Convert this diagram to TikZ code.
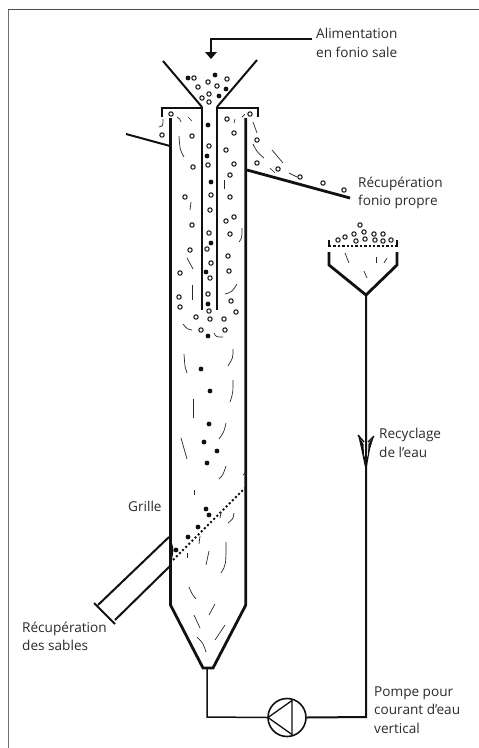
\documentclass[tikz,border=0pt]{standalone}
\usepackage{fontspec}
\setmainfont{Open Sans}
\usetikzlibrary{calc,positioning}
\definecolor{Ink}{HTML}{111111}
\definecolor{Label}{HTML}{2B2B2B}
\definecolor{FrameGray}{HTML}{6E6E6E}
\tikzset{
  wall/.style={line width=2.8pt,Ink},
  thinwall/.style={line width=2pt,Ink},
  pipeline/.style={line width=2pt,Ink},
  hair/.style={line width=0.7pt,Ink!90},
  grain/.style={draw=Ink,line width=1pt,fill=white},
  label/.style={text=Label,font=\fontsize{13.6}{18.6}\selectfont,align=left,inner sep=0pt}
}
\begin{document}
\begin{tikzpicture}[x=1pt,y=-1pt]
    \useasboundingbox (0,0) rectangle (479,748);
    \fill[white] (0,0) rectangle (479,748);
    \draw[FrameGray,line width=1.6pt] (8.6,748) -- (8.6,9.5);
    \draw[FrameGray!70!black,line width=1pt] (8,9.5) -- (479,9.5);
    % labels
    \node[label,anchor=west] (alim) at (316,43) {Alimentation\\en fonio sale};
    \node[label,anchor=west] (fonio) at (358,193) {Récupération\\fonio propre};
    \node[label,anchor=west] (recy) at (379,443) {Recyclage\\de l'eau};
    \node[label,anchor=west] (grille) at (128,506.5) {Grille};
    \node[label,anchor=west] (sables) at (22,636.5) {Récupération\\des sables};
    \node[label,anchor=west] (pompe) at (374,710) {Pompe pour\\courant d'eau\\vertical};
    % feed arrow
    \coordinate (feedstart) at (312,39);
    \coordinate (feedbend) at (211,39);
    \coordinate (feedend) at (211,53);
    \draw[pipeline,line width=1.2pt] (feedstart) -- (feedbend) -- (feedend);
    \fill[Ink] (205,52) -- (217,52) -- (211,59) -- cycle;
    % funnel and cap
    \draw[thinwall] (163,61) -- (202,107) (257,60) -- (217,107);
    \draw[thinwall] (162,117) -- (162,108) -- (202,108) -- (202,310);
    \draw[thinwall] (258,117) -- (258,108) -- (217,108) -- (217,310);
    % column and cone
    \draw[wall] (170.5,118) -- (170.5,605) -- (203,668) -- (213,668) -- (245.8,605) -- (245.8,118);
    \draw[thinwall] (126,134) -- (170,146);
    \draw[wall] (247,170) -- (350,198);
    % sand outlet
    \draw[thinwall] (169,537) -- (98,605);
    \draw[thinwall] (169,567) -- (115,620);
    \draw[thinwall] (94,603) -- (115,624);
    \draw[line width=1.2pt,Ink] (169,537) .. controls (174,550) .. (169,567);
    \draw[Ink,line width=2pt,dash pattern=on 2pt off 2.4pt] (173,560) -- (245,488);
    % hopper
    \draw[Ink,line width=2.4pt,dash pattern=on 2.4pt off 2pt] (329,246) -- (397,246);
    \draw[wall] (329,240) -- (329,247) (397,240) -- (397,247);
    \draw[wall] (329,252) -- (329,265) -- (366,295) -- (397,265) -- (397,252);
    % recycling circuit
    \node[circle,draw=Ink,line width=1.6pt,minimum size=38pt,inner sep=0pt] (pump) at (287,717.5) {};
    \coordinate (hopperout) at (366,295);
    \coordinate (coneout) at (207,668);
    \draw[pipeline] (hopperout) -- (366,717) -- (pump.east);
    \draw[pipeline,line width=1.5pt] (coneout) -- (207,717) -- (pump.west);
    \draw[Ink,line width=1.3pt] (268,717.5) -- (292,700.5) -- (292,734.5) -- cycle;
    % flow mark
    \draw[Ink,line width=1.4pt] (358,435) -- (364,442) (374,436) -- (368,442);
    \fill[Ink] (358,435) -- (361,448) -- (366,472) -- (370,449) -- (374,436) -- (368.5,444) -- (368,455) -- (366,460) -- (364,455) -- (363.5,444) -- cycle;
    % hairs
    \foreach \xa/\ya/\xb/\yb/\xc/\yc in {
      177/117/180/119/181/122, 188/117/190/119/192/121, 163/119/163/126/159/127,
      179/136/180/150/184/157, 235/119/235/121/234/123, 242/117/243/115/245/114,
      253/122/255/127/257/133, 253/144/257/152/264/158, 272/150/277/156/283/163,
      270/168/272/170/275/173, 289/173/293/175/297/177, 224/180/224/185/224/189,
      191/202/191/206/190/210, 225/220/226/219/227/219, 242/228/242/238/239/242,
      187/258/190/263/193/269, 192/285/192/292/192/300, 225/294/232/292/237/284,
      183/324/187/329/192/330, 214/333/216/337/223/337, 184/354/185/368/187/373,
      233/349/233/358/228/366, 233/380/233/393/230/402, 193/399/193/408/193/418,
      226/423/224/432/219/439, 181/438/185/452/187/459, 226/466/223/475/219/479,
      194/490/194/492/194/495, 243/475/244/474/245/473, 234/513/233/519/228/523,
      221/513/220/515/220/518, 200/536/200/540/199/544, 187/553/187/555/187/558,
      209/551/207/558/206/565, 226/542/226/565/221/573, 189/587/192/594/196/599,
      215/604/212/610/209/615, 194/615/197/622/200/628, 225/625/220/632/215/640,
      197/637/203/643/206/652, 345/253/347/258/349/263, 376/257/376/260/376/263,
      387/258/385/260/384/263, 364/271/365/275/367/278}
      {
        \draw[hair] (\xa,\ya) .. controls (\xb,\yb) .. (\xc,\yc);
      }
    % open grains
    \foreach \x/\y in {
      194/78,198/87,208/82,217/86,227/79,209/94,202/98,209/102,
      171/114,250/114,227/119,162/135,192/136,234/133,209/146,226/150,
      257/140,193/167,234/164,208/165,257/163,230/175,278/169,300/177,
      323/183,344/190,211/195,185/197,230/197,210/210,234/217,226/221,
      192/225,209/233,230/234,207/249,190/250,228/256,211/263,180/273,
      229/271,210/278,208/294,179/297,180/307,231/301,209/311,236/312,
      196/317,210/319,224/319,201/330,225/330,
      360/225,364/232,354/234,345/237,338/240,356/241,365/239,374/234,
      383/234,375/240,383/241,391/240}
      {
        \draw[grain] (\x,\y) circle (2.2pt);
      }
    % full grains
    \foreach \x/\y in {
      188/78,215/75,226/89,219/96,208/125,207/156,211/182,211/243,206/272,
      208/304,208/336,201/369,210/391,209/424,204/442,217/451,207/463,
      206/509,209/515,198/527,188/537,176/550}
      {
        \fill[Ink] (\x,\y) circle (2.4pt);
      }
  \end{tikzpicture}
\end{document}
